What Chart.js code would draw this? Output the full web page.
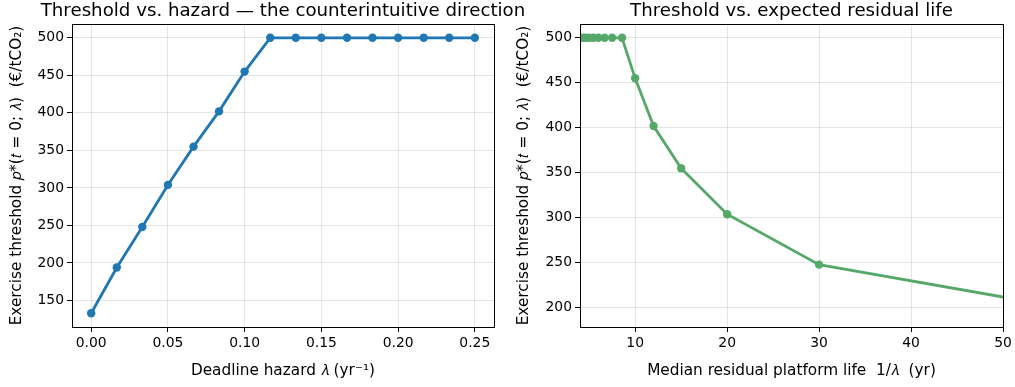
<!DOCTYPE html>
<html><head><meta charset="utf-8">
<script src="https://cdn.jsdelivr.net/npm/chart.js@4/dist/chart.umd.min.js"></script>
<style>
html,body{margin:0;padding:0;background:#fff;}
#w{position:relative;width:1015px;height:387px;}
#c1{position:absolute;left:0;top:0;z-index:2;}
#c2{position:absolute;left:507px;top:0;z-index:1;}
</style></head><body>
<div id="w"><canvas id="c1" width="540" height="387"></canvas><canvas id="c2" width="508" height="387"></canvas></div>
<script>
const hazard = [0, 0.0167, 0.0333, 0.05, 0.0667, 0.0833, 0.1, 0.1167, 0.1333, 0.15, 0.1667, 0.1833, 0.2, 0.2167, 0.2333, 0.25];
const thresholdVsHazard = [133, 194, 248, 304, 355, 402, 455, 500, 500, 500, 500, 500, 500, 500, 500, 500];
const residualLife = [60, 30, 20, 15, 12, 10, 8.57, 7.5, 6.67, 6, 5.45, 5, 4.62, 4.29, 4];
const thresholdVsLife = [194, 248, 304, 355, 402, 455, 500, 500, 500, 500, 500, 500, 500, 500, 500];
const hazardTicks = [0, 0.05, 0.10, 0.15, 0.20, 0.25];
const hazardYTicks = [150, 200, 250, 300, 350, 400, 450, 500];
const lifeTicks = [10, 20, 30, 40, 50];
const lifeYTicks = [200, 250, 300, 350, 400, 450, 500];

const FONT = "'DejaVu Sans', sans-serif";
Chart.defaults.font.family = FONT;
Chart.defaults.color = '#000';
Chart.defaults.animation = false;

const frame = {
  id: 'frame',
  afterLayout(chart) {
    const t = chart.titleBlock, a = chart.chartArea;
    if (t) {
      const c = (a.left + a.right) / 2, W = 800;
      t.left = c - W / 2; t.right = c + W / 2; t.width = W;
    }
  },
  afterDraw(chart) {
    const a = chart.chartArea, ctx = chart.ctx;
    ctx.save();
    ctx.strokeStyle = '#000';
    ctx.lineWidth = 1;
    ctx.strokeRect(Math.round(a.left) + 0.5, Math.round(a.top) + 0.5, Math.round(a.right - a.left), Math.round(a.bottom - a.top));
    ctx.restore();
  }
};

function makeChart(id, xs, ys, color, xTicks, yTicks, xmin, xmax, ymin, ymax, title, xTitle, yw, padR, xfmt) {
  const pts = xs.map((x, i) => ({x: x, y: ys[i]}));
  return new Chart(document.getElementById(id), {
    type: 'line',
    data: {datasets: [{
      data: pts, borderColor: color, backgroundColor: color,
      borderWidth: 2.8, pointRadius: 4.2, pointHoverRadius: 4.2,
      pointBorderWidth: 0, tension: 0, clip: 0
    }]},
    options: {
      responsive: false,
      layout: {padding: {left: 0, right: padR, top: 0, bottom: 0}},
      plugins: {
        legend: {display: false}, tooltip: {enabled: false},
        title: {display: true, text: title, color: '#000',
          font: {size: 18.2, weight: 'normal', family: FONT, lineHeight: 1.2},
          padding: {top: 0, bottom: 2.2}}
      },
      scales: {
        x: {
          type: 'linear', min: xmin, max: xmax,
          afterBuildTicks: s => { s.ticks = xTicks.map(v => ({value: v})); },
          afterFit: s => { s.height = 60; },
          grid: {color: 'rgba(0,0,0,0.1)', tickColor: '#000', tickLength: 5, drawTicks: true},
          border: {color: '#000', width: 1},
          ticks: {font: {size: 13.9}, color: '#000', padding: 3, maxRotation: 0,
            callback: v => xfmt(v)},
          title: {display: true, text: xTitle, color: '#000', font: {size: 15.3}, padding: {top: 0, bottom: 7}}
        },
        y: {
          type: 'linear', min: ymin, max: ymax,
          afterBuildTicks: s => { s.ticks = yTicks.map(v => ({value: v})); },
          afterFit: s => { s.width = yw; },
          grid: {color: 'rgba(0,0,0,0.1)', tickColor: '#000', tickLength: 5, drawTicks: true},
          border: {color: '#000', width: 1},
          ticks: {font: {size: 13.9}, color: '#000', padding: 3, callback: v => String(v)},
          title: {display: true, text: 'Exercise threshold 𝑝*(𝑡 = 0; 𝜆)  (€/tCO₂)', color: '#000', font: {size: 15.3}, padding: {top: 8, bottom: 0}}
        }
      }
    },
    plugins: [frame]
  });
}

makeChart('c1', hazard, thresholdVsHazard, '#1f77b4', hazardTicks, hazardYTicks,
  -0.0125, 0.2625, 114.65, 518.35,
  'Threshold vs. hazard \u2014 the counterintuitive direction', 'Deadline hazard 𝜆 (yr⁻¹)', 72, 46, v => v.toFixed(2));
makeChart('c2', residualLife, thresholdVsLife, '#55a868', lifeTicks, lifeYTicks,
  4, 50, 178.7, 515.3,
  'Threshold vs. expected residual life', 'Median residual platform life  1/𝜆  (yr)', 73, 12, v => String(v));
</script>
</body></html>
